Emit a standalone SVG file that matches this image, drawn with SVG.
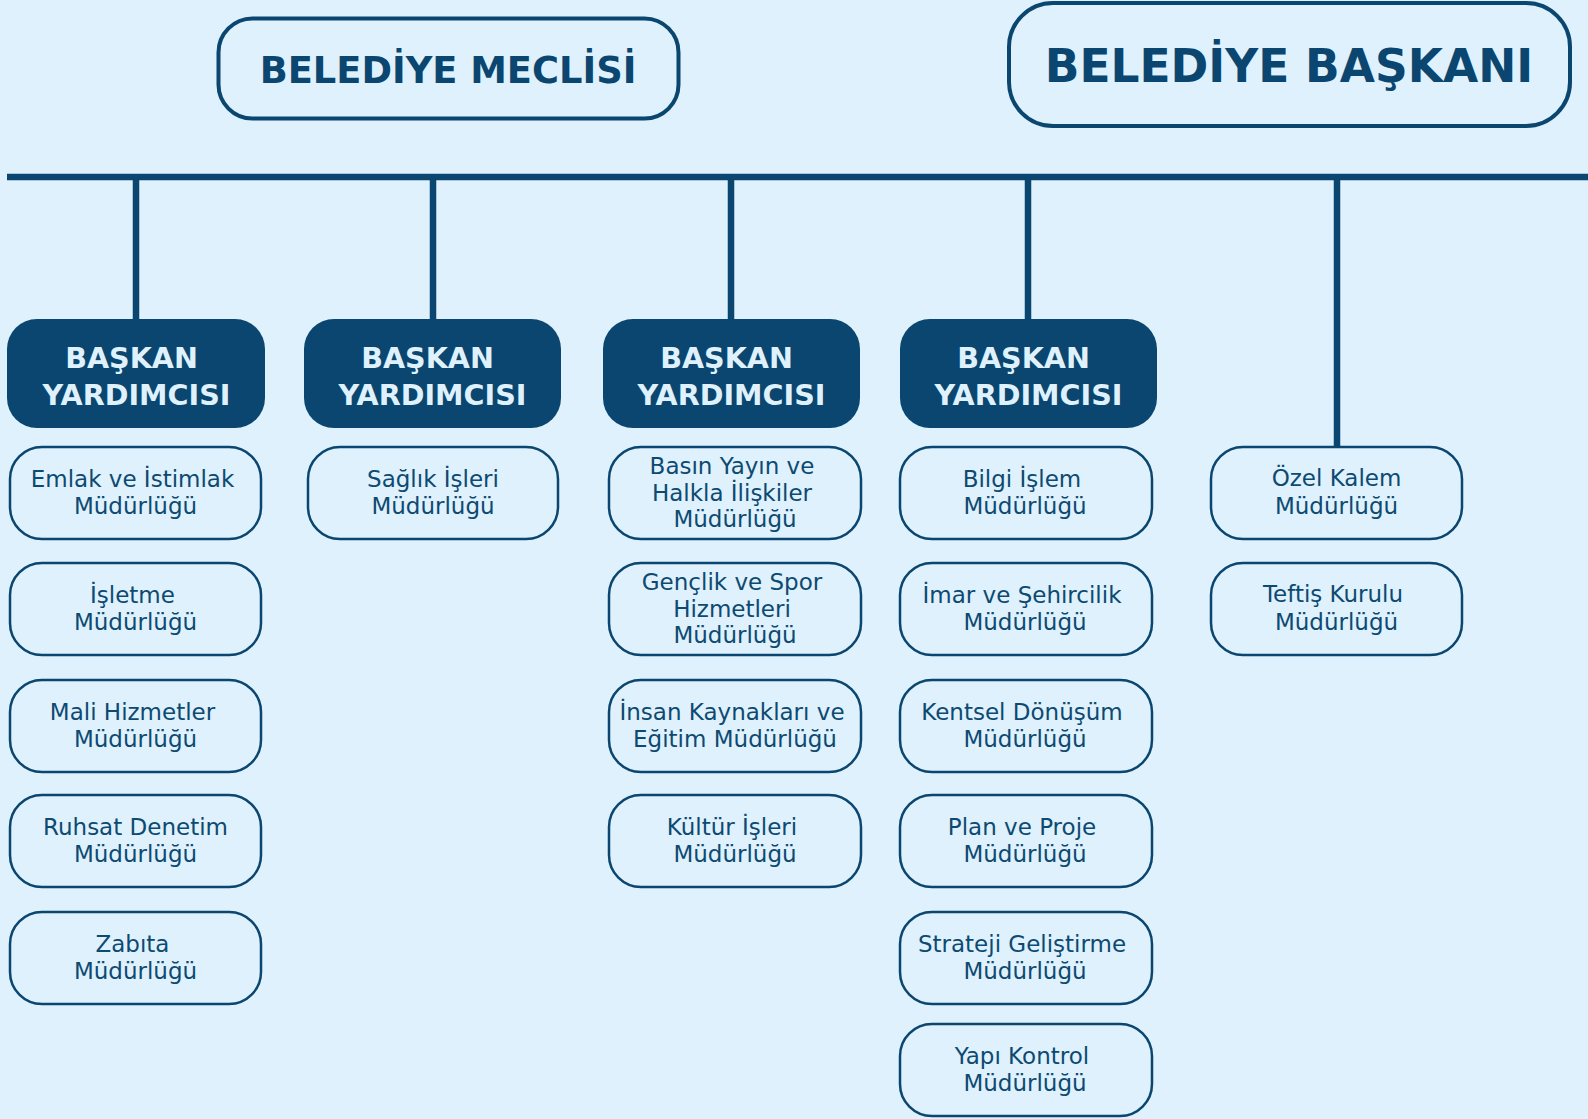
<svg xmlns="http://www.w3.org/2000/svg" width="1588" height="1119" viewBox="0 0 1588 1119">
<style>
.top{fill:none;stroke:#0a466f;stroke-width:4}
.top-t{font-family:"DejaVu Sans",sans-serif;font-weight:bold;fill:#0a466f;text-anchor:middle}
.vp{fill:#0a466f}
.vp-t{font-family:"DejaVu Sans",sans-serif;font-weight:bold;font-size:28.6px;fill:#dff1fc;text-anchor:middle}
.unit{fill:#dff1fc;stroke:#0a466f;stroke-width:2.5}
.unit-t{font-family:"DejaVu Sans",sans-serif;font-size:23px;fill:#0d4a72;text-anchor:middle}
.conn{stroke:#0a466f;stroke-width:6.5;fill:none}
</style>
<rect width="1588" height="1119" fill="#dff1fc"/>
<g id="connectors">
<line class="conn" x1="7" y1="177" x2="1588" y2="177"/>
<line class="conn" x1="136" y1="177" x2="136" y2="320"/>
<line class="conn" x1="433" y1="177" x2="433" y2="320"/>
<line class="conn" x1="731" y1="177" x2="731" y2="320"/>
<line class="conn" x1="1028" y1="177" x2="1028" y2="320"/>
<line class="conn" x1="1337" y1="177" x2="1337" y2="447"/>
</g>
<g id="belediye-meclisi">
<rect class="top" x="218.5" y="18.5" width="460" height="100" rx="34"/>
<text class="top-t" x="448" y="82.5" font-size="36.8">BELEDİYE MECLİSİ</text>
</g>
<g id="belediye-baskani">
<rect class="top" x="1009" y="3" width="561" height="123" rx="44"/>
<text class="top-t" x="1289" y="81.5" font-size="45.5">BELEDİYE BAŞKANI</text>
</g>
<g id="by1"><rect class="vp" x="7" y="319" width="258" height="109" rx="30"/>
<text class="vp-t" x="131.5" y="368.3">BAŞKAN</text><text class="vp-t" x="136.5" y="405">YARDIMCISI</text></g>
<g id="by2"><rect class="vp" x="304" y="319" width="257" height="109" rx="30"/>
<text class="vp-t" x="427.5" y="368.3">BAŞKAN</text><text class="vp-t" x="432.5" y="405">YARDIMCISI</text></g>
<g id="by3"><rect class="vp" x="603" y="319" width="257" height="109" rx="30"/>
<text class="vp-t" x="726.5" y="368.3">BAŞKAN</text><text class="vp-t" x="731.5" y="405">YARDIMCISI</text></g>
<g id="by4"><rect class="vp" x="900" y="319" width="257" height="109" rx="30"/>
<text class="vp-t" x="1023.5" y="368.3">BAŞKAN</text><text class="vp-t" x="1028.5" y="405">YARDIMCISI</text></g>

<g id="emlak"><rect class="unit" x="10" y="447" width="251" height="92" rx="32"/>
<text class="unit-t" x="132.5" y="486.5">Emlak ve İstimlak</text><text class="unit-t" x="135.5" y="513.5">Müdürlüğü</text></g>
<g id="isletme"><rect class="unit" x="10" y="563" width="251" height="92" rx="32"/>
<text class="unit-t" x="132.5" y="602.5">İşletme</text><text class="unit-t" x="135.5" y="629.5">Müdürlüğü</text></g>
<g id="mali"><rect class="unit" x="10" y="680" width="251" height="92" rx="32"/>
<text class="unit-t" x="132.5" y="719.5">Mali Hizmetler</text><text class="unit-t" x="135.5" y="746.5">Müdürlüğü</text></g>
<g id="ruhsat"><rect class="unit" x="10" y="795" width="251" height="92" rx="32"/>
<text class="unit-t" x="135.5" y="834.5">Ruhsat Denetim</text><text class="unit-t" x="135.5" y="861.5">Müdürlüğü</text></g>
<g id="zabita"><rect class="unit" x="10" y="912" width="251" height="92" rx="32"/>
<text class="unit-t" x="132.5" y="951.5">Zabıta</text><text class="unit-t" x="135.5" y="978.5">Müdürlüğü</text></g>

<g id="saglik"><rect class="unit" x="308" y="447" width="250" height="92" rx="32"/>
<text class="unit-t" x="433" y="486.5">Sağlık İşleri</text><text class="unit-t" x="433" y="513.5">Müdürlüğü</text></g>

<g id="basin"><rect class="unit" x="609" y="447" width="252" height="92" rx="32"/>
<text class="unit-t" x="732" y="473.5">Basın Yayın ve</text><text class="unit-t" x="732" y="500.5">Halkla İlişkiler</text><text class="unit-t" x="735" y="527">Müdürlüğü</text></g>
<g id="genclik"><rect class="unit" x="609" y="563" width="252" height="92" rx="32"/>
<text class="unit-t" x="732" y="589.5">Gençlik ve Spor</text><text class="unit-t" x="732" y="616.5">Hizmetleri</text><text class="unit-t" x="735" y="643">Müdürlüğü</text></g>
<g id="insan"><rect class="unit" x="609" y="680" width="252" height="92" rx="32"/>
<text class="unit-t" x="732" y="719.5">İnsan Kaynakları ve</text><text class="unit-t" x="735" y="746.5">Eğitim Müdürlüğü</text></g>
<g id="kultur"><rect class="unit" x="609" y="795" width="252" height="92" rx="32"/>
<text class="unit-t" x="732" y="834.5">Kültür İşleri</text><text class="unit-t" x="735" y="861.5">Müdürlüğü</text></g>

<g id="bilgi"><rect class="unit" x="900" y="447" width="252" height="92" rx="32"/>
<text class="unit-t" x="1022" y="486.5">Bilgi İşlem</text><text class="unit-t" x="1025" y="513.5">Müdürlüğü</text></g>
<g id="imar"><rect class="unit" x="900" y="563" width="252" height="92" rx="32"/>
<text class="unit-t" x="1022" y="602.5">İmar ve Şehircilik</text><text class="unit-t" x="1025" y="629.5">Müdürlüğü</text></g>
<g id="kentsel"><rect class="unit" x="900" y="680" width="252" height="92" rx="32"/>
<text class="unit-t" x="1022" y="719.5">Kentsel Dönüşüm</text><text class="unit-t" x="1025" y="746.5">Müdürlüğü</text></g>
<g id="plan"><rect class="unit" x="900" y="795" width="252" height="92" rx="32"/>
<text class="unit-t" x="1022" y="834.5">Plan ve Proje</text><text class="unit-t" x="1025" y="861.5">Müdürlüğü</text></g>
<g id="strateji"><rect class="unit" x="900" y="912" width="252" height="92" rx="32"/>
<text class="unit-t" x="1022" y="951.5">Strateji Geliştirme</text><text class="unit-t" x="1025" y="978.5">Müdürlüğü</text></g>
<g id="yapi"><rect class="unit" x="900" y="1024" width="252" height="92" rx="32"/>
<text class="unit-t" x="1022" y="1063.5">Yapı Kontrol</text><text class="unit-t" x="1025" y="1090.5">Müdürlüğü</text></g>

<g id="ozel"><rect class="unit" x="1211" y="447" width="251" height="92" rx="32"/>
<text class="unit-t" x="1336.5" y="486">Özel Kalem</text><text class="unit-t" x="1336.5" y="513.5">Müdürlüğü</text></g>
<g id="teftis"><rect class="unit" x="1211" y="563" width="251" height="92" rx="32"/>
<text class="unit-t" x="1333" y="602">Teftiş Kurulu</text><text class="unit-t" x="1336.5" y="629.5">Müdürlüğü</text></g>
</svg>
